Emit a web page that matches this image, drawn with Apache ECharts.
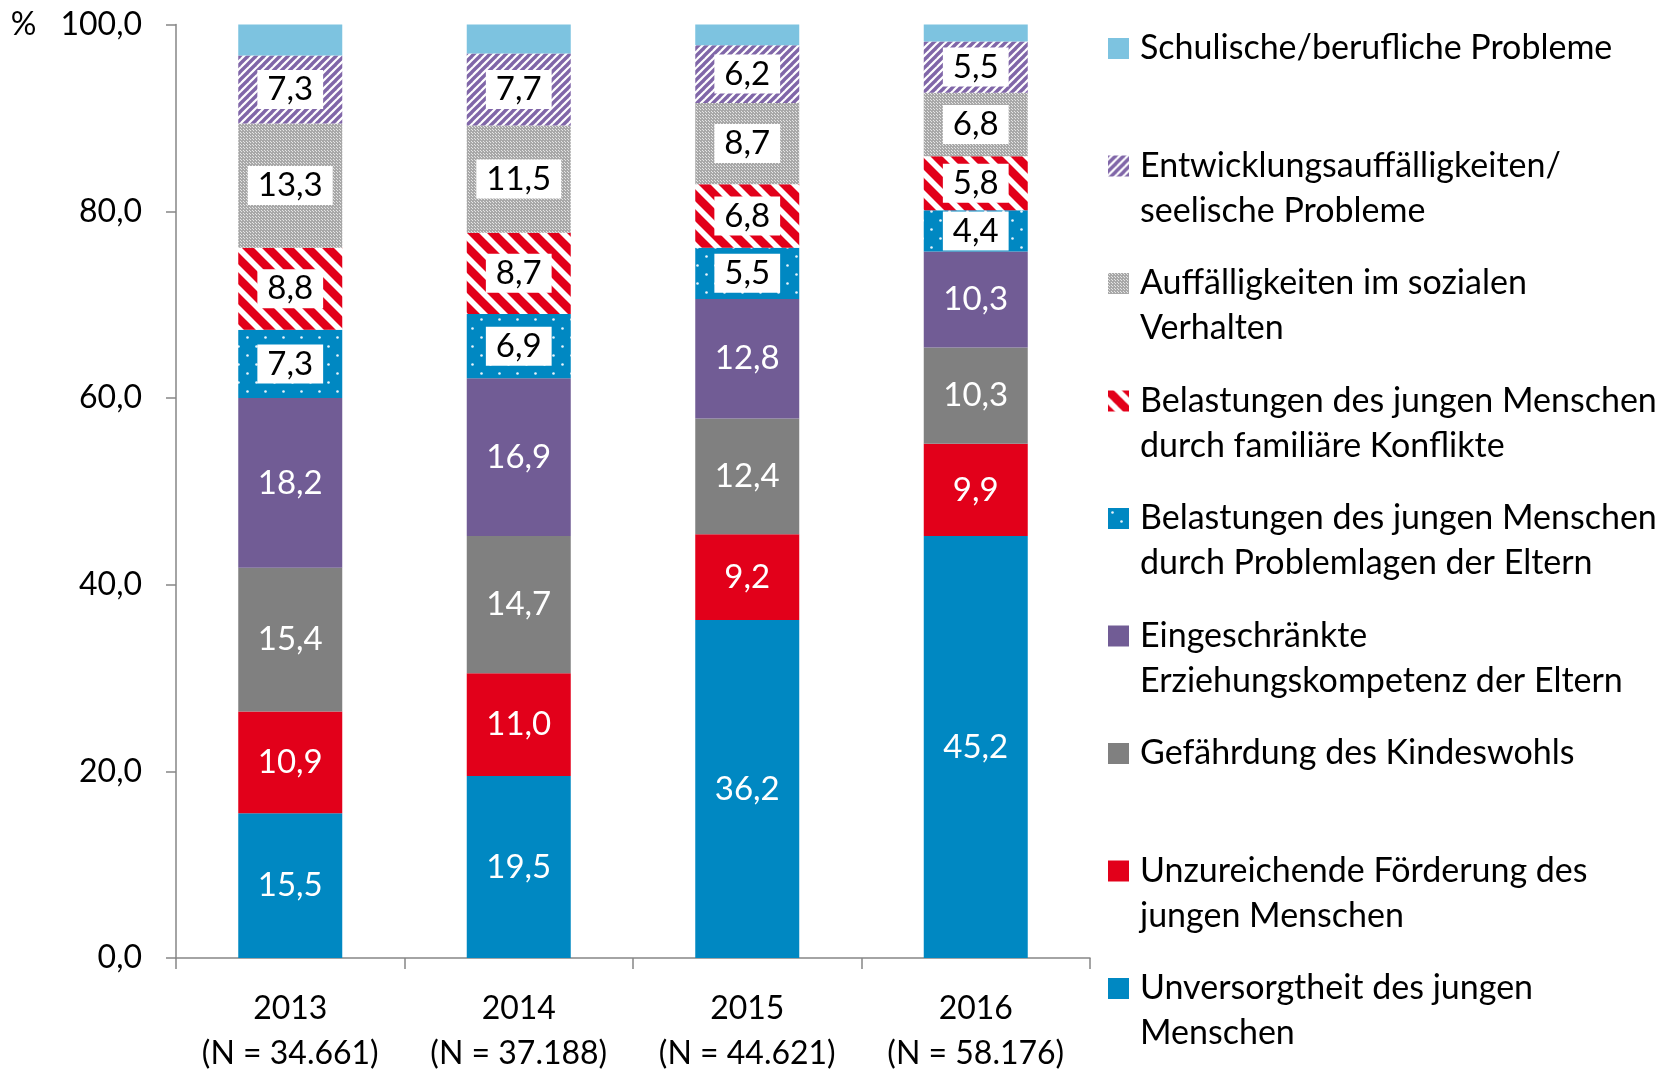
<!DOCTYPE html>
<html>
<head>
<meta charset="utf-8">
<title>Gründe Inobhutnahme</title>
<script src="https://cdn.jsdelivr.net/npm/echarts@6/dist/echarts.min.js"></script>
<style>
  html, body { margin: 0; padding: 0; background: #fff; }
  #chart { width: 1675px; height: 1070px; }
</style>
</head>
<body>
<div id="chart"></div>
<script>
// categories
var years = ['2013\n(N = 34.661)', '2014\n(N = 37.188)', '2015\n(N = 44.621)', '2016\n(N = 58.176)'];

// series values in %, bottom to top
var unversorgt     = [15.5, 19.5, 36.2, 45.2];
var foerderung     = [10.9, 11.0, 9.2, 9.9];
var kindeswohl     = [15.4, 14.7, 12.4, 10.3];
var erziehung      = [18.2, 16.9, 12.8, 10.3];
var elternProbleme = [7.3, 6.9, 5.5, 4.4];
var konflikte      = [8.8, 8.7, 6.8, 5.8];
var sozial         = [13.3, 11.5, 8.7, 6.8];
var entwicklung    = [7.3, 7.7, 6.2, 5.5];
var schule         = [3.3, 3.1, 2.2, 1.8];

// legend texts (line breaks as in the original)
var legendText = {
  'Schulische/berufliche Probleme': ['Schulische/berufliche Probleme', ' '],
  'Entwicklungsauffälligkeiten/seelische Probleme': ['Entwicklungsauffälligkeiten/', 'seelische Probleme'],
  'Auffälligkeiten im sozialen Verhalten': ['Auffälligkeiten im sozialen', 'Verhalten'],
  'Belastungen des jungen Menschen durch familiäre Konflikte': ['Belastungen des jungen Menschen', 'durch familiäre Konflikte'],
  'Belastungen des jungen Menschen durch Problemlagen der Eltern': ['Belastungen des jungen Menschen', 'durch Problemlagen der Eltern'],
  'Eingeschränkte Erziehungskompetenz der Eltern': ['Eingeschränkte', 'Erziehungskompetenz der Eltern'],
  'Gefährdung des Kindeswohls': ['Gefährdung des Kindeswohls', ' '],
  'Unzureichende Förderung des jungen Menschen': ['Unzureichende Förderung des', 'jungen Menschen'],
  'Unversorgtheit des jungen Menschen': ['Unversorgtheit des jungen', 'Menschen']
};

var FONT = 'Lato';

// --- fill patterns ---
function stripes(size, fg, bg, width, dir) {
  var c = document.createElement('canvas');
  c.width = size; c.height = size;
  var g = c.getContext('2d');
  g.fillStyle = bg; g.fillRect(0, 0, size, size);
  g.strokeStyle = fg; g.lineWidth = width; g.lineCap = 'square';
  for (var k = -1; k <= 1; k++) {
    g.beginPath();
    if (dir === '/') { g.moveTo(k * size, size); g.lineTo((k + 1) * size, 0); }
    else { g.moveTo(k * size, 0); g.lineTo((k + 1) * size, size); }
    g.stroke();
  }
  return { image: c, repeat: 'repeat' };
}
function dots(size, fg, bg) {
  var c = document.createElement('canvas');
  c.width = size; c.height = size;
  var g = c.getContext('2d');
  g.fillStyle = bg; g.fillRect(0, 0, size, size);
  g.fillStyle = fg;
  g.beginPath(); g.arc(size * 0.25, size * 0.25, 1.3, 0, Math.PI * 2); g.fill();
  g.beginPath(); g.arc(size * 0.75, size * 0.75, 1.3, 0, Math.PI * 2); g.fill();
  return { image: c, repeat: 'repeat' };
}
function checker(a, b) {
  var c = document.createElement('canvas');
  c.width = 3; c.height = 3;
  var g = c.getContext('2d');
  g.fillStyle = a; g.fillRect(0, 0, 3, 3);
  g.fillStyle = b;
  g.fillRect(1, 1, 1, 1); g.fillRect(0, 0, 1, 1);
  return { image: c, repeat: 'repeat' };
}

function fmt(v) { return v.toFixed(1).replace('.', ','); }

var whiteLabel = {
  show: true, position: 'inside', color: '#fff',
  fontFamily: FONT, fontSize: 33,
  formatter: function (p) { return fmt(p.value); }
};
var boxLabel = {
  show: true, position: 'inside', color: '#000',
  backgroundColor: '#fff', padding: [4, 10, 2, 10],
  fontFamily: FONT, fontSize: 33,
  formatter: function (p) { return fmt(p.value); }
};

function bar(name, data, color, label) {
  return {
    name: name, type: 'bar', stack: 'total', barWidth: 104,
    data: data,
    itemStyle: { color: color },
    label: label || { show: false },
    emphasis: { disabled: true }
  };
}

var series = [
  bar('Unversorgtheit des jungen Menschen', unversorgt, '#0088c2', whiteLabel),
  bar('Unzureichende Förderung des jungen Menschen', foerderung, '#e2001a', whiteLabel),
  bar('Gefährdung des Kindeswohls', kindeswohl, '#808080', whiteLabel),
  bar('Eingeschränkte Erziehungskompetenz der Eltern', erziehung, '#715c95', whiteLabel),
  bar('Belastungen des jungen Menschen durch Problemlagen der Eltern', elternProbleme, dots(18, '#e8f4fb', '#0088c2'), boxLabel),
  bar('Belastungen des jungen Menschen durch familiäre Konflikte', konflikte, stripes(20, '#e2001a', '#ffffff', 8.5, '\\'), boxLabel),
  bar('Auffälligkeiten im sozialen Verhalten', sozial, checker('#a8a8a8', '#e4e4e4'), boxLabel),
  bar('Entwicklungsauffälligkeiten/seelische Probleme', entwicklung, stripes(8, '#8066a8', '#ffffff', 3.4, '/'), boxLabel),
  bar('Schulische/berufliche Probleme', schule, '#7dc3e0', null)
];

var legendNames = series.map(function (s) { return s.name; }).reverse();

var chart = echarts.init(document.getElementById('chart'));
chart.setOption({
  animation: false,
  textStyle: { fontFamily: FONT },
  grid: { left: 176, right: 585, top: 24.6, bottom: 112, outerBoundsMode: 'none' },
  legend: {
    orient: 'vertical', left: 1108, top: -19, padding: 0,
    itemWidth: 21, itemHeight: 21, itemGap: -17.5,
    icon: 'rect', selectedMode: false,
    data: legendNames,
    formatter: function (name) {
      var t = legendText[name];
      return ' \n' + t[0] + '\n' + t[1];
    },
    textStyle: { fontFamily: FONT, fontSize: 34, lineHeight: 45, color: '#000', padding: [0, 0, 0, 6] }
  },
  xAxis: {
    type: 'category', data: years,
    axisLine: { lineStyle: { color: '#868686', width: 1.5 } },
    axisTick: { show: true, length: 11, lineStyle: { color: '#868686', width: 1.5 } },
    axisLabel: { interval: 0, margin: 28, color: '#000', fontFamily: FONT, fontSize: 32, lineHeight: 45 }
  },
  yAxis: {
    type: 'value', min: 0, max: 100, interval: 20,
    splitLine: { show: false },
    axisLine: { show: true, lineStyle: { color: '#868686', width: 1.5 } },
    axisTick: { show: true, length: 10, lineStyle: { color: '#868686', width: 1.5 } },
    axisLabel: {
      margin: 34, color: '#000', fontFamily: FONT, fontSize: 32,
      formatter: function (v) {
        return v === 100 ? '{p|%}{v|' + fmt(v) + '}' : '{v|' + fmt(v) + '}';
      },
      rich: {
        p: { fontFamily: FONT, fontSize: 32, color: '#000', padding: [0, 24, 0, 0] },
        v: { fontFamily: FONT, fontSize: 32, color: '#000' }
      }
    }
  },
  series: series
});
</script>
</body>
</html>
